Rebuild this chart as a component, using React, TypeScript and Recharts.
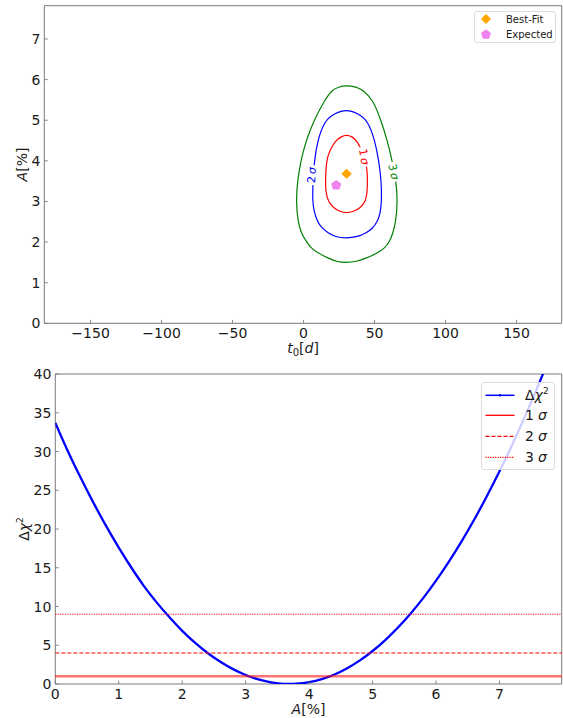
import React from 'react';
import {
  ScatterChart, Scatter, XAxis, YAxis, ReferenceArea, ReferenceLine,
  LineChart, Line, Legend, Label,
} from 'recharts';

const FONT = '"DejaVu Sans", "Noto Sans", sans-serif';
const SPINE = '#7a7a7a';
const TXT = '#1a1a1a';

// ---------- top chart data ----------
const t0Ticks = [-150, -100, -50, 0, 50, 100, 150];
const aTicksTop = [0, 1, 2, 3, 4, 5, 6, 7];

// contour points [t0, A]
const contour1: [number, number][] = [
  [30.3, 4.64], [34, 4.6], [37.6, 4.5], [41, 4.25], [44, 4.0], [44.9, 3.7], [45, 3.45],
  [44.7, 3.2], [43.6, 3.0], [40, 2.84], [35, 2.75], [30.3, 2.71], [25.5, 2.75], [21.2, 2.84],
  [17.4, 3.0], [15.8, 3.2], [15.4, 3.45], [15.6, 3.7], [16.2, 4.0], [18.2, 4.25],
  [22.5, 4.5], [26.5, 4.6],
];
const contour2: [number, number][] = [
  [30.3, 5.27], [38, 5.17], [45.2, 5.0], [50.3, 4.5], [53, 4.0], [54.8, 3.5], [55, 3.0],
  [54, 2.7], [52, 2.5], [48.5, 2.33], [44, 2.22], [38, 2.13], [30.3, 2.09], [22, 2.13],
  [17.4, 2.22], [12.5, 2.36], [9.8, 2.5], [7.4, 2.75], [6.3, 3.0], [6.6, 3.5], [7.6, 4.0],
  [9.8, 4.5], [14.9, 5.0], [22, 5.17],
];
const contour3: [number, number][] = [
  [30.3, 5.86], [37, 5.82], [42, 5.74], [49, 5.5], [54.5, 5.0], [59, 4.5], [62.4, 4.0],
  [65.2, 3.5], [66.2, 3.0], [65, 2.5], [62.8, 2.2], [60.4, 2.0], [57, 1.85], [52.8, 1.74],
  [44, 1.6], [37, 1.52], [30.3, 1.49], [23, 1.52], [17.4, 1.6], [9.8, 1.74], [5, 1.86],
  [2.3, 2.0], [-1.5, 2.2], [-4, 2.5], [-5.3, 3.0], [-4.3, 3.5], [-2, 4.0], [1.8, 4.5],
  [7.3, 5.0], [14.9, 5.5], [20, 5.74], [24.5, 5.82],
];

const bestFitT0 = [30.3];
const bestFitA = [3.68];
const expectedT0 = [23.0];
const expectedA = [3.41];

const labelNum = ['1', '2', '3'];
const labelT0 = [42.7, 5.6, 63.6];
const labelA = [4.1, 3.65, 3.73];
const labelAngle = [80, -87, 78];
const labelColor = ['#ff0000', '#0000ff', '#008000'];

// ---------- bottom chart data ----------
const aValues = [0, 0.2, 0.4, 0.6, 0.8, 1.0, 1.2, 1.4, 1.6, 1.8, 2.0, 2.2, 2.4, 2.6, 2.8, 3.0, 3.2,
  3.4, 3.6, 3.7, 3.8, 4.0, 4.2, 4.4, 4.6, 4.8, 5.0, 5.2, 5.4, 5.6, 5.8, 6.0, 6.2, 6.4, 6.6, 6.8,
  7.0, 7.2, 7.4, 7.6, 7.8];
const chiValues = [33.7, 30.0, 26.6, 23.4, 20.4, 17.6, 15.0, 12.6, 10.5, 8.6, 6.85, 5.33, 4.0, 2.87,
  1.92, 1.16, 0.59, 0.22, 0.02, 0, 0.03, 0.23, 0.63, 1.23, 2.04, 3.05, 4.26, 5.67, 7.28, 9.1, 11.11,
  13.33, 15.75, 18.37, 21.19, 24.22, 27.44, 30.87, 34.5, 38.33, 42.3];
const aTicksBottom = [0, 1, 2, 3, 4, 5, 6, 7];
const chiTicks = [0, 5, 10, 15, 20, 25, 30, 35, 40];
const sigmaLevels = [1, 4, 9];

const toPts = (arr: [number, number][]) => arr.map(([x, y]) => ({ x, y }));
const c1 = toPts(contour1);
const c2 = toPts(contour2);
const c3 = toPts(contour3);
const bestData = bestFitT0.map((x, i) => ({ x, y: bestFitA[i] }));
const expData = expectedT0.map((x, i) => ({ x, y: expectedA[i] }));
const labelData = labelNum.map((n, i) => ({
  x: labelT0[i], y: labelA[i], num: n, angle: labelAngle[i], color: labelColor[i],
}));
const chiData = aValues.map((a, i) => ({ a, chi: chiValues[i] }));

const fmt = (v: number) => (v < 0 ? '\u2212' + Math.abs(v) : String(v));

const XTick = (props: any) => {
  const { x, y, payload } = props;
  return (
    <g>
      <line x1={x} x2={x} y1={y} y2={y - 3.5} stroke={SPINE} strokeWidth={0.9} />
      <text x={x} y={y + 15} textAnchor="middle" fontSize={14} fill={TXT} fontFamily={FONT}>
        {fmt(payload.value)}
      </text>
    </g>
  );
};
const YTick = (props: any) => {
  const { x, y, payload } = props;
  return (
    <g>
      <line x1={x} x2={x + 3.5} y1={y} y2={y} stroke={SPINE} strokeWidth={0.9} />
      <text x={x - 4} y={y} dy="0.36em" textAnchor="end" fontSize={14} fill={TXT} fontFamily={FONT}>
        {fmt(payload.value)}
      </text>
    </g>
  );
};

const NoShape = () => <g />;

const Diamond = (props: any) => {
  const { cx, cy } = props;
  const r = 5.2;
  return <polygon points={`${cx},${cy - r} ${cx + r},${cy} ${cx},${cy + r} ${cx - r},${cy}`} fill="#FFA500" />;
};
const pentagonPts = (cx: number, cy: number, r: number) => {
  const p: string[] = [];
  for (let k = 0; k < 5; k++) {
    const ang = -Math.PI / 2 + (k * 2 * Math.PI) / 5;
    p.push(`${cx + r * Math.cos(ang)},${cy + r * Math.sin(ang)}`);
  }
  return p.join(' ');
};
const Pentagon = (props: any) => {
  const { cx, cy } = props;
  return <polygon points={pentagonPts(cx, cy + 0.5, 5.3)} fill="#EE82EE" />;
};

const ContourLabel = (props: any) => {
  const { cx, cy, payload } = props;
  return (
    <g transform={`translate(${cx},${cy}) rotate(${payload.angle})`}>
      <rect x={-10} y={-6} width={20} height={12} fill="#ffffff" />
      <text x={0} y={0} dy="0.36em" textAnchor="middle" fontSize={11} fill={payload.color} fontFamily={FONT}>
        {payload.num}
        <tspan dx={2} fontStyle="italic">σ</tspan>
      </text>
    </g>
  );
};

const TopLegend = () => (
  <div style={{ width: 82, height: 32, boxSizing: 'border-box', border: '1px solid #dcdcdc', borderRadius: 3, background: 'rgba(255,255,255,0.8)' }}>
    <svg width={82} height={32} style={{ display: 'block', marginLeft: -1, marginTop: -1 }}>
      <polygon points="12,3 17,8 12,13 7,8" fill="#FFA500" />
      <polygon points={pentagonPts(12, 23.5, 5.2)} fill="#EE82EE" />
      <text x={32} y={8} dy="0.36em" fontSize={10} fill={TXT} fontFamily={FONT}>Best-Fit</text>
      <text x={32} y={23} dy="0.36em" fontSize={10} fill={TXT} fontFamily={FONT}>Expected</text>
    </svg>
  </div>
);

const BottomLegend = () => {
  const rows = [13.3, 33.3, 54.3, 75.3];
  return (
    <div style={{ width: 74, height: 88, boxSizing: 'border-box', border: '1px solid #dcdcdc', borderRadius: 3, background: 'rgba(255,255,255,0.8)' }}>
      <svg width={74} height={88} style={{ display: 'block', marginLeft: -1, marginTop: -1 }}>
        <line x1={4.5} x2={33.5} y1={rows[0]} y2={rows[0]} stroke="#0000ff" strokeWidth={1.5} />
        <circle cx={19} cy={rows[0]} r={1.3} fill="#0000ff" />
        <line x1={4.5} x2={33.5} y1={rows[1]} y2={rows[1]} stroke="#ff0000" strokeWidth={1.3} />
        <line x1={4.5} x2={33.5} y1={rows[2]} y2={rows[2]} stroke="#ff0000" strokeWidth={1.3} strokeDasharray="4 2" />
        <line x1={4.5} x2={33.5} y1={rows[3]} y2={rows[3]} stroke="#ff0000" strokeWidth={1.2} strokeDasharray="1.2 1.2" />
        <text x={44} y={rows[0]} dy="0.36em" fontSize={14} fill={TXT} fontFamily={FONT}>
          Δ<tspan fontStyle="italic">χ</tspan><tspan fontSize={9} dy={-6}>2</tspan>
        </text>
        {['1', '2', '3'].map((n, i) => (
          <text key={n} x={44} y={rows[i + 1]} dy="0.36em" fontSize={14} fill={TXT} fontFamily={FONT}>
            {n}<tspan dx={4} fontStyle="italic">σ</tspan>
          </text>
        ))}
      </svg>
    </div>
  );
};

export default function App() {
  return (
    <div style={{ position: 'absolute', left: 0, top: 0, width: 563, height: 718, background: '#fff', fontFamily: FONT }}>
      <div style={{ position: 'absolute', left: 0, top: 0 }}>
        <ScatterChart width={563} height={360} margin={{ top: 5.7, right: 1.3, left: 0, bottom: 0 }}>
          <XAxis type="number" dataKey="x" domain={[-182.6, 181.8]} ticks={t0Ticks} height={36.7}
            tickSize={0} tickMargin={0} tickLine={false} axisLine={false} tick={<XTick />}
            allowDataOverflow interval={0}>
            <Label content={() => (
              <text x={303} y={353} textAnchor="middle" fontSize={14} fill={TXT} fontFamily={FONT}>
                <tspan fontStyle="italic">t</tspan>
                <tspan fontSize={10} dy={3}>0</tspan>
                <tspan dy={-3}>[</tspan>
                <tspan fontStyle="italic">d</tspan>
                <tspan>]</tspan>
              </text>
            )} />
          </XAxis>
          <YAxis type="number" dataKey="y" domain={[0, 7.82]} ticks={aTicksTop} width={44.3}
            tickSize={0} tickMargin={0} tickLine={false} axisLine={false} tick={<YTick />}
            allowDataOverflow interval={0}>
            <Label content={() => (
              <text x={22} y={164.5} dy="0.36em" textAnchor="middle" fontSize={14} fill={TXT}
                fontFamily={FONT} transform="rotate(-90 22 164.5)">
                <tspan fontStyle="italic">A</tspan>
                <tspan>[%]</tspan>
              </text>
            )} />
          </YAxis>
          <ReferenceArea x1={-182.6} x2={181.8} y1={0} y2={7.82} fill="none" stroke={SPINE} strokeWidth={1} ifOverflow="visible" />
          <Scatter data={c3} line={{ stroke: '#008000', strokeWidth: 1.2 }} lineType="joint"
            lineJointType="basisClosed" shape={<NoShape />} isAnimationActive={false} />
          <Scatter data={c2} line={{ stroke: '#0000ff', strokeWidth: 1.2 }} lineType="joint"
            lineJointType="basisClosed" shape={<NoShape />} isAnimationActive={false} />
          <Scatter data={c1} line={{ stroke: '#ff0000', strokeWidth: 1.2 }} lineType="joint"
            lineJointType="basisClosed" shape={<NoShape />} isAnimationActive={false} />
          <Scatter data={labelData} shape={<ContourLabel />} isAnimationActive={false} />
          <Scatter data={bestData} shape={<Diamond />} isAnimationActive={false} />
          <Scatter data={expData} shape={<Pentagon />} isAnimationActive={false} />
          <Legend layout="vertical" align="center" verticalAlign="middle" content={<TopLegend />}
            wrapperStyle={{ top: 11, left: 474, width: 82, height: 32, bottom: 'auto', right: 'auto' }} />
        </ScatterChart>
      </div>
      <div style={{ position: 'absolute', left: 0, top: 360 }}>
        <LineChart width={563} height={358} data={chiData} margin={{ top: 14, right: 1.3, left: 0, bottom: 0 }}>
          <XAxis type="number" dataKey="a" domain={[0, 7.98]} ticks={aTicksBottom} height={34}
            tickSize={0} tickMargin={0} tickLine={false} axisLine={false} tick={<XTick />}
            allowDataOverflow interval={0}>
            <Label content={() => (
              <text x={308.5} y={354} textAnchor="middle" fontSize={14} fill={TXT} fontFamily={FONT}>
                <tspan fontStyle="italic">A</tspan>
                <tspan>[%]</tspan>
              </text>
            )} />
          </XAxis>
          <YAxis type="number" domain={[0, 40]} ticks={chiTicks} width={55.3}
            tickSize={0} tickMargin={0} tickLine={false} axisLine={false} tick={<YTick />}
            allowDataOverflow interval={0}>
            <Label content={() => (
              <text x={24} y={169} dy="0.36em" textAnchor="middle" fontSize={14} fill={TXT}
                fontFamily={FONT} transform="rotate(-90 24 169)">
                Δ<tspan fontStyle="italic">χ</tspan>
                <tspan fontSize={9} dy={-6}>2</tspan>
              </text>
            )} />
          </YAxis>
          <ReferenceArea x1={0} x2={7.98} y1={0} y2={40} fill="none" stroke={SPINE} strokeWidth={1} ifOverflow="visible" />
          <Line type="monotone" dataKey="chi" stroke="#0000ff" strokeWidth={2.3} dot={false}
            isAnimationActive={false} />
          <ReferenceLine y={sigmaLevels[0]} stroke="#ff0000" strokeOpacity={0.55} strokeWidth={2.3} />
          <ReferenceLine y={sigmaLevels[1]} stroke="#ff0000" strokeWidth={1.2} strokeDasharray="4 2" />
          <ReferenceLine y={sigmaLevels[2]} stroke="#ff0000" strokeWidth={1.1} strokeDasharray="1.2 1.2" />
          <Legend layout="vertical" align="center" verticalAlign="middle" content={<BottomLegend />}
            wrapperStyle={{ top: 21.7, left: 481, width: 74, height: 88, bottom: 'auto', right: 'auto' }} />
        </LineChart>
      </div>
    </div>
  );
}
